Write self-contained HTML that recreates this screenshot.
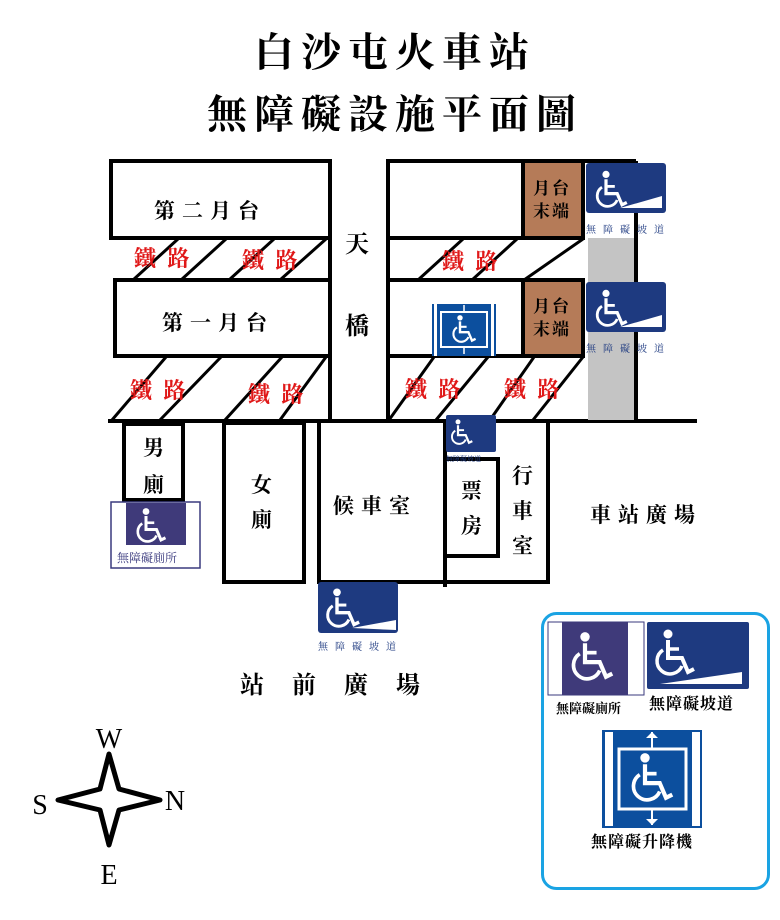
<!DOCTYPE html>
<html><head><meta charset="utf-8"><style>
html,body{margin:0;padding:0;background:#fff;}
svg{display:block;}
text{font-family:"Liberation Serif","Noto Serif CJK SC","Noto Serif CJK TC",serif;}
</style></head><body>
<svg width="780" height="920" viewBox="0 0 780 920" xmlns="http://www.w3.org/2000/svg">
<defs>
<g id="wc">
 <circle cx="0" cy="-22" r="4.5" fill="#fff"/>
 <path d="M0,-16 L0,2 L14,2 L20,16 L26,13" stroke="#fff" stroke-width="4" fill="none"/>
 <path d="M0,-7 L11,-7" stroke="#fff" stroke-width="3.5"/>
 <path d="M-5,-6 A13,13 0 1 0 14,10" stroke="#fff" stroke-width="3.5" fill="none"/>
</g>
</defs>
<rect width="780" height="920" fill="#fff"/>
<text x="395" y="66" font-size="40" text-anchor="middle" letter-spacing="7" font-weight="bold">白沙屯火車站</text>
<text x="395" y="128" font-size="40" text-anchor="middle" letter-spacing="7" font-weight="bold">無障礙設施平面圖</text>

<g stroke="#000" stroke-width="4" fill="none">
 <rect x="111" y="161" width="219" height="77"/>
 <rect x="388" y="161" width="135" height="77"/>
 <rect x="115" y="280" width="215" height="76"/>
 <rect x="388" y="280" width="135" height="76"/>
 <line x1="330" y1="161" x2="330" y2="421"/>
 <line x1="388" y1="161" x2="388" y2="421"/>
 <line x1="523" y1="161" x2="636" y2="161"/>
 <line x1="636" y1="161" x2="636" y2="421"/>
 <line x1="108" y1="421" x2="697" y2="421"/>
 <rect x="124" y="424" width="59" height="76"/>
 <rect x="224" y="423" width="80" height="159"/>
 <polyline points="319,423 319,582 548,582 548,423"/>
 <line x1="445" y1="423" x2="445" y2="587"/>
 <rect x="445" y="459" width="53" height="97"/>
</g>
<rect x="523" y="161" width="60" height="77" fill="#b57b58" stroke="#000" stroke-width="4"/>
<rect x="523" y="280" width="60" height="76" fill="#b57b58" stroke="#000" stroke-width="4"/>
<rect x="588" y="238" width="46" height="182" fill="#c4c4c4"/>

<g stroke="#000" stroke-width="3">
 <line x1="133" y1="280" x2="178" y2="239"/>
 <line x1="181" y1="280" x2="226" y2="239"/>
 <line x1="229" y1="280" x2="274" y2="239"/>
 <line x1="280" y1="280" x2="326" y2="239"/>
 <line x1="418" y1="280" x2="463" y2="239"/>
 <line x1="472" y1="280" x2="517" y2="239"/>
 <line x1="524" y1="280" x2="583" y2="239"/>
 <line x1="112" y1="420" x2="166" y2="357"/>
 <line x1="160" y1="420" x2="221" y2="357"/>
 <line x1="225" y1="420" x2="282" y2="357"/>
 <line x1="280" y1="420" x2="326" y2="357"/>
 <line x1="389" y1="420" x2="434" y2="357"/>
 <line x1="436" y1="420" x2="488" y2="357"/>
 <line x1="490" y1="420" x2="534" y2="357"/>
 <line x1="533" y1="420" x2="583" y2="357"/>
</g>

<g font-size="22" fill="#e01818" font-weight="bold" letter-spacing="3">
 <text x="134" y="266">鐵 路</text>
 <text x="242" y="268">鐵 路</text>
 <text x="442" y="269">鐵 路</text>
 <text x="130" y="398">鐵 路</text>
 <text x="248" y="402">鐵 路</text>
 <text x="405" y="397">鐵 路</text>
 <text x="504" y="397">鐵 路</text>
</g>

<g font-size="21" fill="#000" font-weight="bold">
 <text x="154" y="218" letter-spacing="7">第二月台</text>
 <text x="162" y="330" letter-spacing="7">第一月台</text>
 <text x="345" y="252" font-size="24">天</text>
 <text x="345" y="334" font-size="24">橋</text>
 <text x="533" y="194" font-size="17" letter-spacing="2">月台</text>
 <text x="533" y="217" font-size="17" letter-spacing="2">末端</text>
 <text x="533" y="312" font-size="17" letter-spacing="2">月台</text>
 <text x="533" y="335" font-size="17" letter-spacing="2">末端</text>
 <text x="143" y="455">男</text>
 <text x="143" y="492">廁</text>
 <text x="251" y="492">女</text>
 <text x="251" y="527">廁</text>
 <text x="333" y="513" letter-spacing="7">候車室</text>
 <text x="461" y="498">票</text>
 <text x="461" y="533">房</text>
 <text x="512" y="483">行</text>
 <text x="512" y="518">車</text>
 <text x="512" y="553">室</text>
 <text x="590" y="522" letter-spacing="7">車站廣場</text>
 <text x="240" y="693" font-size="24" letter-spacing="28">站前廣場</text>
</g>

<g>
 <rect x="586" y="163" width="80" height="50" rx="3" fill="#1e3a80"/>
 <use href="#wc" transform="translate(606,192) scale(0.8)"/>
 <path d="M620,208 L662,196 L662,208Z" fill="#fff"/>
 <text x="586" y="233" font-size="10" fill="#1e3a80" letter-spacing="7">無障礙坡道</text>
 <rect x="586" y="282" width="80" height="50" rx="3" fill="#1e3a80"/>
 <use href="#wc" transform="translate(606,311) scale(0.8)"/>
 <path d="M620,327 L662,315 L662,327Z" fill="#fff"/>
 <text x="586" y="352" font-size="10" fill="#1e3a80" letter-spacing="7">無障礙坡道</text>
</g>
<g>
 <rect x="432" y="304" width="64" height="52" fill="#0c4f9e"/>
 <rect x="434" y="304" width="3" height="52" fill="#fff"/>
 <rect x="491" y="304" width="3" height="52" fill="#fff"/>
 <rect x="441" y="312" width="46" height="35" fill="none" stroke="#fff" stroke-width="2"/>
 <use href="#wc" transform="translate(460,331) scale(0.6)"/>
 <path d="M464,305 v6 M464,347 v7" stroke="#fff" stroke-width="1.5"/>
</g>
<g>
 <rect x="446" y="415" width="50" height="37" rx="2" fill="#1e3a80"/>
 <use href="#wc" transform="translate(458,434) scale(0.55)"/>
 <text x="446" y="461" font-size="7" fill="#1e3a80">無障礙坡道</text>
</g>
<g>
 <rect x="111" y="502" width="89" height="66" fill="#fff" stroke="#3a3a7e" stroke-width="1.5"/>
 <rect x="126" y="503" width="60" height="42" fill="#3f3a7a"/>
 <use href="#wc" transform="translate(146,528) scale(0.75)"/>
 <text x="117" y="562" font-size="12" fill="#3a3a7e">無障礙廁所</text>
</g>
<g>
 <rect x="318" y="582" width="80" height="51" rx="3" fill="#1e3a80"/>
 <use href="#wc" transform="translate(337,611) scale(0.85)"/>
 <path d="M352,628 L396,620 L396,630Z" fill="#fff"/>
 <text x="318" y="650" font-size="10" fill="#1e3a80" letter-spacing="7">無障礙坡道</text>
</g>

<rect x="542.5" y="613.5" width="226" height="275" rx="14" fill="#fff" stroke="#1aa3e3" stroke-width="3"/>
<g>
 <rect x="548" y="622" width="96" height="73" fill="#fff" stroke="#3a3a7e" stroke-width="1"/>
 <rect x="562" y="622" width="66" height="73" fill="#3f3a7a"/>
 <use href="#wc" transform="translate(585,660) scale(1.05)"/>
 <text x="556" y="713" font-size="13" fill="#000" font-weight="bold">無障礙廁所</text>
 <rect x="647" y="622" width="102" height="67" rx="2" fill="#1e3a80"/>
 <use href="#wc" transform="translate(668,656) scale(1)"/>
 <path d="M660,684 L742,672 L742,684Z" fill="#fff"/>
 <text x="649" y="709" font-size="16" fill="#000" font-weight="bold" letter-spacing="1">無障礙坡道</text>
 <rect x="602" y="730" width="100" height="98" fill="#0c4f9e"/>
 <rect x="605" y="732" width="8" height="94" fill="#fff"/>
 <rect x="692" y="732" width="8" height="94" fill="#fff"/>
 <rect x="619" y="749" width="67" height="60" fill="none" stroke="#fff" stroke-width="3"/>
 <use href="#wc" transform="translate(645,781) scale(1.05)"/>
 <path d="M652,732 v16 M652,810 v15" stroke="#fff" stroke-width="2"/>
 <path d="M646,738 l6,-6 l6,6Z M646,819 l6,6 l6,-6Z" fill="#fff"/>
 <text x="591" y="847" font-size="16" fill="#000" font-weight="bold" letter-spacing="1">無障礙升降機</text>
</g>

<path d="M109,754 L119,789 L160,800 L119,810 L109,845 L100,810 L58,800 L100,789Z" fill="#fff" stroke="#000" stroke-width="5" stroke-linejoin="round"/>
<g font-size="28" fill="#000">
 <text x="109" y="748" text-anchor="middle">W</text>
 <text x="40" y="814" text-anchor="middle">S</text>
 <text x="175" y="810" text-anchor="middle">N</text>
 <text x="109" y="884" text-anchor="middle">E</text>
</g>
</svg>
</body></html>
